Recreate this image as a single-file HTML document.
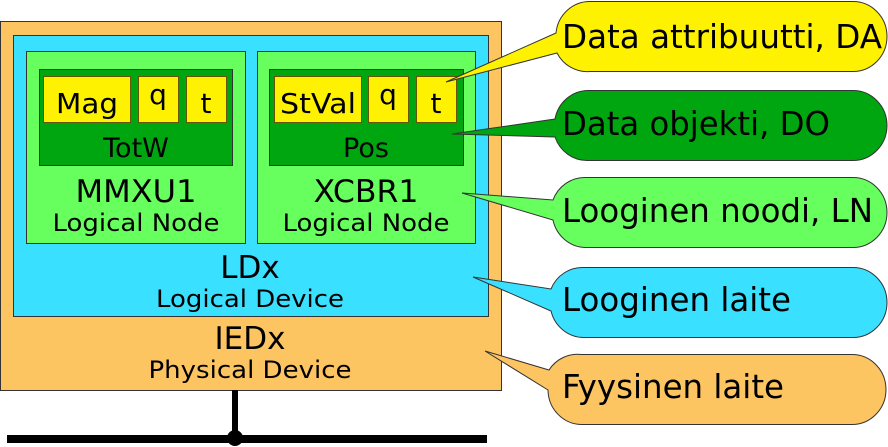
<!DOCTYPE html>
<html><head><meta charset="utf-8"><style>
html,body{margin:0;padding:0;background:#fff;}
svg{display:block;}
text{font-family:"DejaVu Sans","Liberation Sans",sans-serif;fill:#000;}
</style></head><body>
<svg width="888" height="447" viewBox="0 0 888 447" xmlns="http://www.w3.org/2000/svg">
<g stroke="#333" stroke-width="1">
<rect x="0.5" y="21.5" width="501" height="369" fill="#fdc462"/>
<rect x="13.5" y="35.5" width="475" height="281" fill="#3ae0ff"/>
<rect x="26.5" y="51.5" width="219" height="192" fill="#66ff5e"/>
<rect x="257.5" y="51.5" width="218" height="192" fill="#66ff5e"/>
<rect x="39.5" y="69.5" width="193" height="96" fill="#00a610"/>
<rect x="269.5" y="69.5" width="194" height="96" fill="#00a610"/>
<g fill="#fff200" stroke="#665500">
<rect x="43.5" y="76.5" width="87" height="46"/>
<rect x="138.5" y="76.5" width="40" height="46"/>
<rect x="186.5" y="76.5" width="40" height="46"/>
<rect x="274.5" y="76.5" width="87" height="46"/>
<rect x="368.5" y="76.5" width="40" height="46"/>
<rect x="416.5" y="76.5" width="40" height="46"/>
</g>
</g>
<g font-size="28" text-anchor="middle">
<text x="87" y="113" textLength="62" lengthAdjust="spacingAndGlyphs">Mag</text><text x="158" y="104">q</text><text x="206" y="113">t</text>
<text x="318" y="113" textLength="76" lengthAdjust="spacingAndGlyphs">StVal</text><text x="388" y="104">q</text><text x="436" y="113">t</text>
</g>
<g font-size="27" text-anchor="middle">
<text x="136" y="157">TotW</text><text x="366" y="157">Pos</text>
</g>
<g font-size="31" text-anchor="middle">
<text x="136" y="202" textLength="121" lengthAdjust="spacingAndGlyphs">MMXU1</text><text x="366" y="202" textLength="105" lengthAdjust="spacingAndGlyphs">XCBR1</text>
<text x="250" y="278">LDx</text><text x="250" y="349">IEDx</text>
</g>
<g font-size="24" text-anchor="middle">
<text x="136" y="231" textLength="167" lengthAdjust="spacingAndGlyphs">Logical Node</text><text x="366" y="231" textLength="167" lengthAdjust="spacingAndGlyphs">Logical Node</text>
<text x="250" y="307" textLength="188" lengthAdjust="spacingAndGlyphs">Logical Device</text><text x="250" y="378" textLength="203" lengthAdjust="spacingAndGlyphs">Physical Device</text>
</g>
<rect x="232" y="390" width="6" height="50" fill="#000"/>
<rect x="7" y="435" width="480" height="8" fill="#000"/>
<circle cx="235" cy="438" r="8" fill="#000"/>
<g stroke="#333" stroke-width="1">
<path d="M590,1.5 H853 A34,35 0 0 1 853,71.5 H590 A34,35 0 0 1 557,53 L446,82 L556,33 A34,35 0 0 1 590,1.5Z" fill="#fff200"/>
<path d="M588,90.5 H853 A34,35 0 0 1 853,160.5 H588 A34,35 0 0 1 555,137 L452,134 L555,119 A34,35 0 0 1 588,90.5Z" fill="#00a610"/>
<path d="M586,177.5 H853 A34,35 0 0 1 853,247.5 H586 A34,35 0 0 1 553,220 L462,193 L553,200 A34,35 0 0 1 586,177.5Z" fill="#66ff5e"/>
<path d="M584,267.5 H853 A34,35 0 0 1 853,337.5 H584 A34,35 0 0 1 551,311 L473,277 L551,289 A34,35 0 0 1 584,267.5Z" fill="#3ae0ff"/>
<path d="M581,354.5 H852 A34,35 0 0 1 852,424.5 H581 A34,35 0 0 1 548,390 L485,351 L549,370 A34,35 0 0 1 581,354.5Z" fill="#fdc462"/>
</g>
<g font-size="33">
<text x="562" y="48" textLength="320" lengthAdjust="spacingAndGlyphs">Data attribuutti, DA</text>
<text x="562" y="135" textLength="268" lengthAdjust="spacingAndGlyphs">Data objekti, DO</text>
<text x="562" y="222" textLength="311" lengthAdjust="spacingAndGlyphs">Looginen noodi, LN</text>
<text x="562" y="311" textLength="229" lengthAdjust="spacingAndGlyphs">Looginen laite</text>
<text x="562" y="398" textLength="222" lengthAdjust="spacingAndGlyphs">Fyysinen laite</text>
</g>
</svg>
</body></html>
